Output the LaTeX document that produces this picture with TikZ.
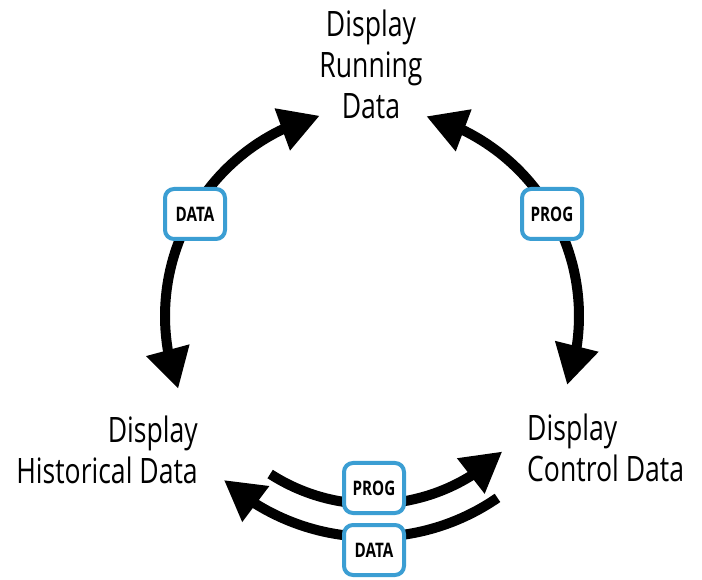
\documentclass[tikz,border=0pt]{standalone}
\usepackage{fontspec}
\setmainfont{Open Sans}[FakeStretch=0.76]
\usetikzlibrary{arrows.meta,bending,calc}

\definecolor{tagblue}{RGB}{59,158,211}

\tikzset{
  flow/.style={line width=10pt},
  bigtip/.tip={Triangle[length=40pt,width=42pt]},
  tag/.style={draw=tagblue, line width=4pt, rounded corners=9pt, fill=white,
    minimum width=60pt, minimum height=50pt, inner sep=0pt,
    font=\bfseries\fontsize{20}{22}\selectfont},
  caption/.style={font=\fontsize{35}{41}\selectfont, inner sep=0pt}
}

\begin{document}
\begin{tikzpicture}[x=1pt,y=1pt]
        \useasboundingbox (0,0) rectangle (702,579);
        \coordinate (ctr) at (372,263);

        % the three screens
        \node[caption, align=center] (run) at (371,515) {Display\\Running\\Data};
        \node[caption, align=right, anchor=east] (hist) at (198,129) {Display\\Historical Data};
        \node[caption, align=left, anchor=west] (ctrl) at (527,131) {Display\\Control Data};

        % free ends of the arrows
        \coordinate (histTip) at ($(ctr)+(200.6:207)$);
        \coordinate (runL) at ($(ctr)+(104.6:207)$);
        \coordinate (runR) at ($(ctr)+(74.8:207)$);
        \coordinate (ctrlTip) at ($(ctr)+(-19.5:207)$);
        \coordinate (upStart) at ($(ctr)+(237.2:188)$);
        \coordinate (loStart) at ($(ctr)+(304.6:221)$);

        \draw[flow, bigtip-bigtip] (histTip) arc[start angle=200.6, end angle=104.6, radius=207pt];
        \draw[flow, bigtip-bigtip] (runR) arc[start angle=74.8, end angle=-19.5, radius=207pt];
        \draw[flow, -bigtip] (upStart) arc[start angle=237.2, end angle=313.9, radius=188pt];
        \draw[flow, -bigtip] (loStart) arc[start angle=304.6, end angle=227.9, radius=221pt];

        % labels on the arrows
        \node[tag] (dataL) at (195,365) {DATA};
        \node[tag] (progR) at (552,365) {PROG};
        \node[tag] (progB) at (374,91) {PROG};
        \node[tag] (dataB) at (374,29) {DATA};
\end{tikzpicture}
\end{document}
